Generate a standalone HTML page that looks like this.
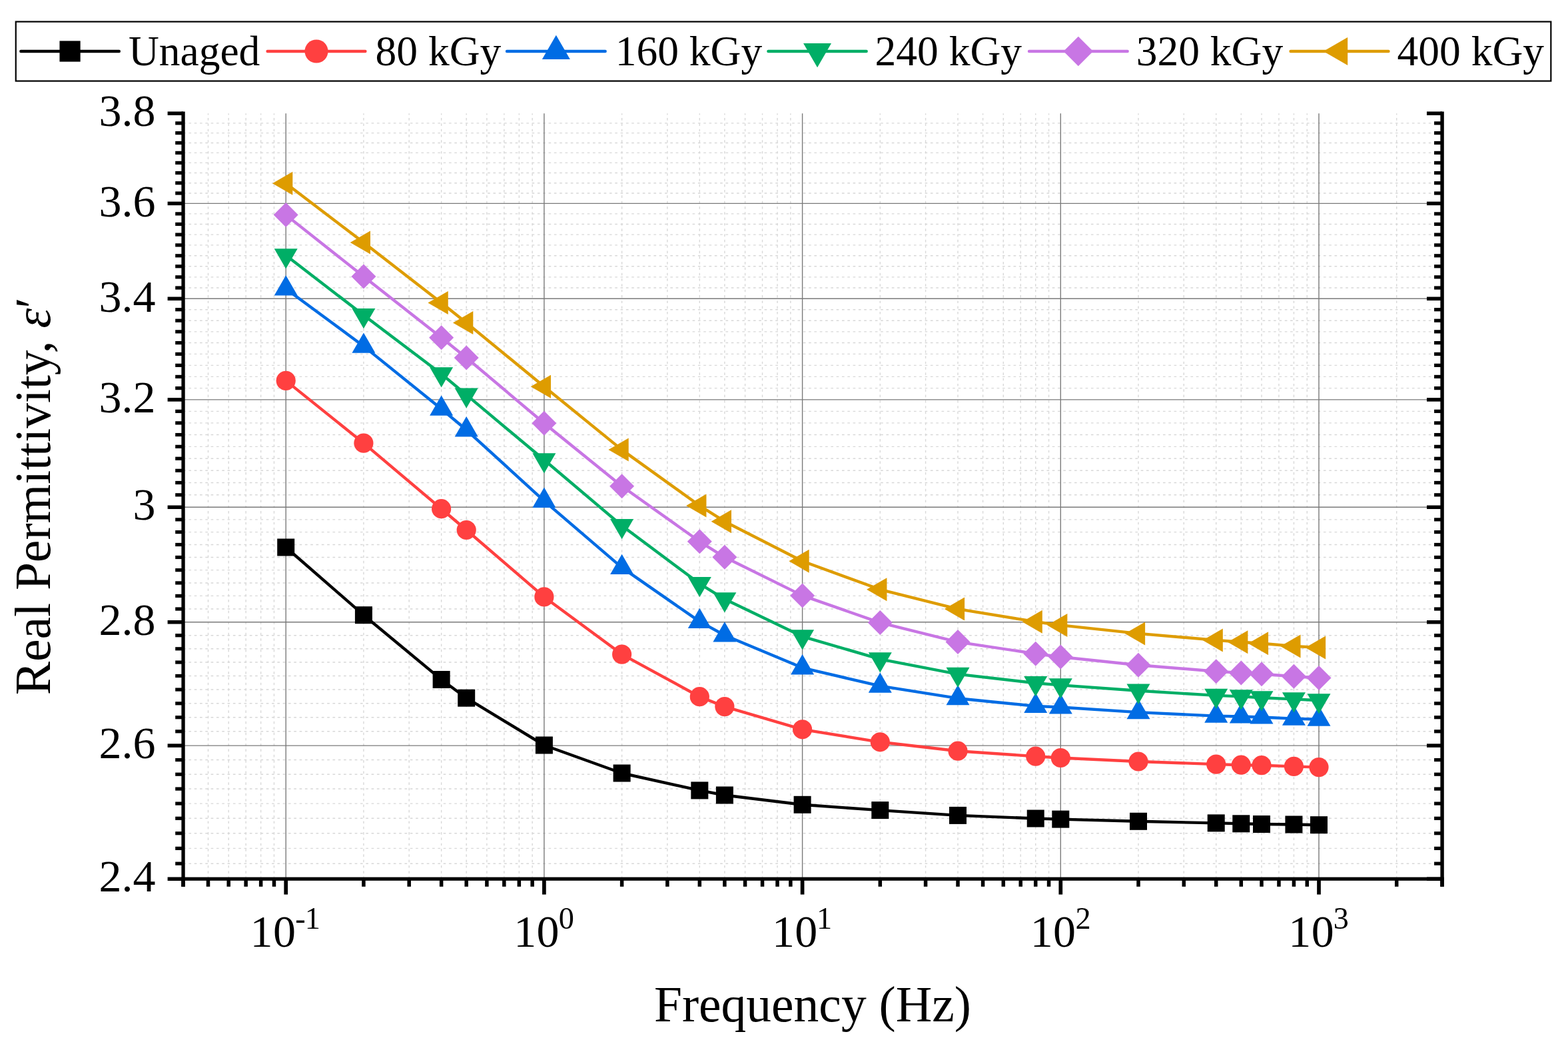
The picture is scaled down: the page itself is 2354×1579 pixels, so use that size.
<!DOCTYPE html><html><head><meta charset="utf-8"><title>Real Permittivity vs Frequency</title><style>html,body{margin:0;padding:0;background:#fff;}svg{display:block;}text{font-family:"Liberation Serif","Times New Roman",serif;fill:#000;}</style></head><body>
<svg width="2354" height="1579" viewBox="0 0 2354 1579">
<rect width="2354" height="1579" fill="#fff"/>
<path d="M312.49 1319.20V170.20 M343.19 1319.20V170.20 M369.14 1319.20V170.20 M391.63 1319.20V170.20 M411.46 1319.20V170.20 M545.91 1319.20V170.20 M614.18 1319.20V170.20 M662.62 1319.20V170.20 M700.19 1319.20V170.20 M730.89 1319.20V170.20 M756.84 1319.20V170.20 M779.33 1319.20V170.20 M799.16 1319.20V170.20 M933.61 1319.20V170.20 M1001.88 1319.20V170.20 M1050.32 1319.20V170.20 M1087.89 1319.20V170.20 M1118.59 1319.20V170.20 M1144.54 1319.20V170.20 M1167.03 1319.20V170.20 M1186.86 1319.20V170.20 M1321.31 1319.20V170.20 M1389.58 1319.20V170.20 M1438.02 1319.20V170.20 M1475.59 1319.20V170.20 M1506.29 1319.20V170.20 M1532.24 1319.20V170.20 M1554.73 1319.20V170.20 M1574.56 1319.20V170.20 M1709.01 1319.20V170.20 M1777.28 1319.20V170.20 M1825.72 1319.20V170.20 M1863.29 1319.20V170.20 M1893.99 1319.20V170.20 M1919.94 1319.20V170.20 M1942.43 1319.20V170.20 M1962.26 1319.20V170.20 M2096.71 1319.20V170.20" stroke="#d8d8d8" stroke-width="1.4" stroke-dasharray="3.7 4.61" fill="none"/>
<path d="M275.05 290.00H2165.10 M275.05 274.71H2165.10 M275.05 259.51H2165.10 M275.05 244.40H2165.10 M275.05 229.39H2165.10 M275.05 214.46H2165.10 M275.05 199.62H2165.10 M275.05 184.87H2165.10 M275.05 432.02H2165.10 M275.05 415.84H2165.10 M275.05 399.76H2165.10 M275.05 383.78H2165.10 M275.05 367.91H2165.10 M275.05 352.13H2165.10 M275.05 336.45H2165.10 M275.05 320.88H2165.10 M275.05 582.60H2165.10 M275.05 565.41H2165.10 M275.05 548.35H2165.10 M275.05 531.39H2165.10 M275.05 514.56H2165.10 M275.05 497.83H2165.10 M275.05 481.22H2165.10 M275.05 464.71H2165.10 M275.05 742.82H2165.10 M275.05 724.51H2165.10 M275.05 706.32H2165.10 M275.05 688.27H2165.10 M275.05 670.34H2165.10 M275.05 652.55H2165.10 M275.05 634.87H2165.10 M275.05 617.33H2165.10 M275.05 914.03H2165.10 M275.05 894.41H2165.10 M275.05 874.95H2165.10 M275.05 855.65H2165.10 M275.05 836.49H2165.10 M275.05 817.47H2165.10 M275.05 798.60H2165.10 M275.05 779.87H2165.10 M275.05 1097.81H2165.10 M275.05 1076.71H2165.10 M275.05 1055.79H2165.10 M275.05 1035.04H2165.10 M275.05 1014.46H2165.10 M275.05 994.05H2165.10 M275.05 973.80H2165.10 M275.05 953.72H2165.10 M275.05 1296.19H2165.10 M275.05 1273.36H2165.10 M275.05 1250.73H2165.10 M275.05 1228.30H2165.10 M275.05 1206.08H2165.10 M275.05 1184.05H2165.10 M275.05 1162.21H2165.10 M275.05 1140.56H2165.10" stroke="#d8d8d8" stroke-width="1.4" stroke-dasharray="3.7 4.61" fill="none"/>
<path d="M429.20 170.20V1319.20 M816.90 170.20V1319.20 M1204.60 170.20V1319.20 M1592.30 170.20V1319.20 M1980.00 170.20V1319.20 M275.05 305.39H2165.10 M275.05 448.31H2165.10 M275.05 599.90H2165.10 M275.05 761.28H2165.10 M275.05 933.79H2165.10 M275.05 1119.10H2165.10" stroke="#7a7a7a" stroke-width="1.4" fill="none"/>
<path d="M429.20 821.50 L545.91 923.20 L662.62 1020.00 L700.19 1047.70 L816.90 1118.50 L933.61 1160.50 L1050.32 1186.40 L1087.89 1193.50 L1204.60 1207.80 L1321.31 1216.10 L1438.02 1223.90 L1554.73 1228.50 L1592.30 1229.60 L1709.01 1232.80 L1825.72 1235.40 L1863.29 1236.30 L1893.99 1237.00 L1942.43 1237.50 L1980.00 1238.20" stroke="#000000" stroke-width="4.4" fill="none" stroke-linejoin="round"/>
<rect x="416.20" y="808.50" width="26.00" height="26.00" fill="#000000"/>
<rect x="532.91" y="910.20" width="26.00" height="26.00" fill="#000000"/>
<rect x="649.62" y="1007.00" width="26.00" height="26.00" fill="#000000"/>
<rect x="687.19" y="1034.70" width="26.00" height="26.00" fill="#000000"/>
<rect x="803.90" y="1105.50" width="26.00" height="26.00" fill="#000000"/>
<rect x="920.61" y="1147.50" width="26.00" height="26.00" fill="#000000"/>
<rect x="1037.32" y="1173.40" width="26.00" height="26.00" fill="#000000"/>
<rect x="1074.89" y="1180.50" width="26.00" height="26.00" fill="#000000"/>
<rect x="1191.60" y="1194.80" width="26.00" height="26.00" fill="#000000"/>
<rect x="1308.31" y="1203.10" width="26.00" height="26.00" fill="#000000"/>
<rect x="1425.02" y="1210.90" width="26.00" height="26.00" fill="#000000"/>
<rect x="1541.73" y="1215.50" width="26.00" height="26.00" fill="#000000"/>
<rect x="1579.30" y="1216.60" width="26.00" height="26.00" fill="#000000"/>
<rect x="1696.01" y="1219.80" width="26.00" height="26.00" fill="#000000"/>
<rect x="1812.72" y="1222.40" width="26.00" height="26.00" fill="#000000"/>
<rect x="1850.29" y="1223.30" width="26.00" height="26.00" fill="#000000"/>
<rect x="1880.99" y="1224.00" width="26.00" height="26.00" fill="#000000"/>
<rect x="1929.43" y="1224.50" width="26.00" height="26.00" fill="#000000"/>
<rect x="1967.00" y="1225.20" width="26.00" height="26.00" fill="#000000"/>
<path d="M429.20 571.40 L545.91 665.10 L662.62 763.70 L700.19 795.50 L816.90 895.90 L933.61 982.10 L1050.32 1045.70 L1087.89 1060.60 L1204.60 1094.80 L1321.31 1113.80 L1438.02 1127.20 L1554.73 1135.20 L1592.30 1137.50 L1709.01 1143.00 L1825.72 1147.10 L1863.29 1148.20 L1893.99 1148.70 L1942.43 1150.40 L1980.00 1151.60" stroke="#FF4040" stroke-width="4.4" fill="none" stroke-linejoin="round"/>
<circle cx="429.20" cy="571.40" r="14.60" fill="#FF4040"/>
<circle cx="545.91" cy="665.10" r="14.60" fill="#FF4040"/>
<circle cx="662.62" cy="763.70" r="14.60" fill="#FF4040"/>
<circle cx="700.19" cy="795.50" r="14.60" fill="#FF4040"/>
<circle cx="816.90" cy="895.90" r="14.60" fill="#FF4040"/>
<circle cx="933.61" cy="982.10" r="14.60" fill="#FF4040"/>
<circle cx="1050.32" cy="1045.70" r="14.60" fill="#FF4040"/>
<circle cx="1087.89" cy="1060.60" r="14.60" fill="#FF4040"/>
<circle cx="1204.60" cy="1094.80" r="14.60" fill="#FF4040"/>
<circle cx="1321.31" cy="1113.80" r="14.60" fill="#FF4040"/>
<circle cx="1438.02" cy="1127.20" r="14.60" fill="#FF4040"/>
<circle cx="1554.73" cy="1135.20" r="14.60" fill="#FF4040"/>
<circle cx="1592.30" cy="1137.50" r="14.60" fill="#FF4040"/>
<circle cx="1709.01" cy="1143.00" r="14.60" fill="#FF4040"/>
<circle cx="1825.72" cy="1147.10" r="14.60" fill="#FF4040"/>
<circle cx="1863.29" cy="1148.20" r="14.60" fill="#FF4040"/>
<circle cx="1893.99" cy="1148.70" r="14.60" fill="#FF4040"/>
<circle cx="1942.43" cy="1150.40" r="14.60" fill="#FF4040"/>
<circle cx="1980.00" cy="1151.60" r="14.60" fill="#FF4040"/>
<path d="M429.20 433.40 L545.91 519.60 L662.62 613.70 L700.19 645.30 L816.90 751.80 L933.61 851.90 L1050.32 932.90 L1087.89 953.50 L1204.60 1002.30 L1321.31 1029.70 L1438.02 1048.20 L1554.73 1059.90 L1592.30 1061.50 L1709.01 1069.10 L1825.72 1074.60 L1863.29 1075.50 L1893.99 1076.50 L1942.43 1078.60 L1980.00 1079.70" stroke="#006CE4" stroke-width="4.4" fill="none" stroke-linejoin="round"/>
<polygon points="429.20,413.19 411.70,443.50 446.70,443.50" fill="#006CE4"/>
<polygon points="545.91,499.39 528.41,529.70 563.41,529.70" fill="#006CE4"/>
<polygon points="662.62,593.49 645.12,623.80 680.12,623.80" fill="#006CE4"/>
<polygon points="700.19,625.09 682.69,655.40 717.69,655.40" fill="#006CE4"/>
<polygon points="816.90,731.59 799.40,761.90 834.40,761.90" fill="#006CE4"/>
<polygon points="933.61,831.69 916.11,862.00 951.11,862.00" fill="#006CE4"/>
<polygon points="1050.32,912.69 1032.82,943.00 1067.82,943.00" fill="#006CE4"/>
<polygon points="1087.89,933.29 1070.39,963.60 1105.39,963.60" fill="#006CE4"/>
<polygon points="1204.60,982.09 1187.10,1012.40 1222.10,1012.40" fill="#006CE4"/>
<polygon points="1321.31,1009.49 1303.81,1039.80 1338.81,1039.80" fill="#006CE4"/>
<polygon points="1438.02,1027.99 1420.52,1058.30 1455.52,1058.30" fill="#006CE4"/>
<polygon points="1554.73,1039.69 1537.23,1070.00 1572.23,1070.00" fill="#006CE4"/>
<polygon points="1592.30,1041.29 1574.80,1071.60 1609.80,1071.60" fill="#006CE4"/>
<polygon points="1709.01,1048.89 1691.51,1079.20 1726.51,1079.20" fill="#006CE4"/>
<polygon points="1825.72,1054.39 1808.22,1084.70 1843.22,1084.70" fill="#006CE4"/>
<polygon points="1863.29,1055.29 1845.79,1085.60 1880.79,1085.60" fill="#006CE4"/>
<polygon points="1893.99,1056.29 1876.49,1086.60 1911.49,1086.60" fill="#006CE4"/>
<polygon points="1942.43,1058.39 1924.93,1088.70 1959.93,1088.70" fill="#006CE4"/>
<polygon points="1980.00,1059.49 1962.50,1089.80 1997.50,1089.80" fill="#006CE4"/>
<path d="M429.20 383.30 L545.91 473.00 L662.62 561.30 L700.19 592.60 L816.90 690.30 L933.61 789.00 L1050.32 876.10 L1087.89 899.30 L1204.60 955.30 L1321.31 989.30 L1438.02 1011.90 L1554.73 1025.20 L1592.30 1028.40 L1709.01 1036.70 L1825.72 1043.90 L1863.29 1045.40 L1893.99 1047.30 L1942.43 1049.40 L1980.00 1051.30" stroke="#00AE66" stroke-width="4.4" fill="none" stroke-linejoin="round"/>
<polygon points="429.20,403.51 411.70,373.20 446.70,373.20" fill="#00AE66"/>
<polygon points="545.91,493.21 528.41,462.90 563.41,462.90" fill="#00AE66"/>
<polygon points="662.62,581.51 645.12,551.20 680.12,551.20" fill="#00AE66"/>
<polygon points="700.19,612.81 682.69,582.50 717.69,582.50" fill="#00AE66"/>
<polygon points="816.90,710.51 799.40,680.20 834.40,680.20" fill="#00AE66"/>
<polygon points="933.61,809.21 916.11,778.90 951.11,778.90" fill="#00AE66"/>
<polygon points="1050.32,896.31 1032.82,866.00 1067.82,866.00" fill="#00AE66"/>
<polygon points="1087.89,919.51 1070.39,889.20 1105.39,889.20" fill="#00AE66"/>
<polygon points="1204.60,975.51 1187.10,945.20 1222.10,945.20" fill="#00AE66"/>
<polygon points="1321.31,1009.51 1303.81,979.20 1338.81,979.20" fill="#00AE66"/>
<polygon points="1438.02,1032.11 1420.52,1001.80 1455.52,1001.80" fill="#00AE66"/>
<polygon points="1554.73,1045.41 1537.23,1015.10 1572.23,1015.10" fill="#00AE66"/>
<polygon points="1592.30,1048.61 1574.80,1018.30 1609.80,1018.30" fill="#00AE66"/>
<polygon points="1709.01,1056.91 1691.51,1026.60 1726.51,1026.60" fill="#00AE66"/>
<polygon points="1825.72,1064.11 1808.22,1033.80 1843.22,1033.80" fill="#00AE66"/>
<polygon points="1863.29,1065.61 1845.79,1035.30 1880.79,1035.30" fill="#00AE66"/>
<polygon points="1893.99,1067.51 1876.49,1037.20 1911.49,1037.20" fill="#00AE66"/>
<polygon points="1942.43,1069.61 1924.93,1039.30 1959.93,1039.30" fill="#00AE66"/>
<polygon points="1980.00,1071.51 1962.50,1041.20 1997.50,1041.20" fill="#00AE66"/>
<path d="M429.20 322.60 L545.91 415.00 L662.62 506.80 L700.19 537.00 L816.90 635.30 L933.61 729.80 L1050.32 812.80 L1087.89 836.30 L1204.60 893.90 L1321.31 934.60 L1438.02 963.60 L1554.73 981.20 L1592.30 986.00 L1709.01 998.20 L1825.72 1007.70 L1863.29 1009.90 L1893.99 1011.70 L1942.43 1015.30 L1980.00 1017.50" stroke="#C876E4" stroke-width="4.4" fill="none" stroke-linejoin="round"/>
<polygon points="429.20,304.10 447.70,322.60 429.20,341.10 410.70,322.60" fill="#C876E4"/>
<polygon points="545.91,396.50 564.41,415.00 545.91,433.50 527.41,415.00" fill="#C876E4"/>
<polygon points="662.62,488.30 681.12,506.80 662.62,525.30 644.12,506.80" fill="#C876E4"/>
<polygon points="700.19,518.50 718.69,537.00 700.19,555.50 681.69,537.00" fill="#C876E4"/>
<polygon points="816.90,616.80 835.40,635.30 816.90,653.80 798.40,635.30" fill="#C876E4"/>
<polygon points="933.61,711.30 952.11,729.80 933.61,748.30 915.11,729.80" fill="#C876E4"/>
<polygon points="1050.32,794.30 1068.82,812.80 1050.32,831.30 1031.82,812.80" fill="#C876E4"/>
<polygon points="1087.89,817.80 1106.39,836.30 1087.89,854.80 1069.39,836.30" fill="#C876E4"/>
<polygon points="1204.60,875.40 1223.10,893.90 1204.60,912.40 1186.10,893.90" fill="#C876E4"/>
<polygon points="1321.31,916.10 1339.81,934.60 1321.31,953.10 1302.81,934.60" fill="#C876E4"/>
<polygon points="1438.02,945.10 1456.52,963.60 1438.02,982.10 1419.52,963.60" fill="#C876E4"/>
<polygon points="1554.73,962.70 1573.23,981.20 1554.73,999.70 1536.23,981.20" fill="#C876E4"/>
<polygon points="1592.30,967.50 1610.80,986.00 1592.30,1004.50 1573.80,986.00" fill="#C876E4"/>
<polygon points="1709.01,979.70 1727.51,998.20 1709.01,1016.70 1690.51,998.20" fill="#C876E4"/>
<polygon points="1825.72,989.20 1844.22,1007.70 1825.72,1026.20 1807.22,1007.70" fill="#C876E4"/>
<polygon points="1863.29,991.40 1881.79,1009.90 1863.29,1028.40 1844.79,1009.90" fill="#C876E4"/>
<polygon points="1893.99,993.20 1912.49,1011.70 1893.99,1030.20 1875.49,1011.70" fill="#C876E4"/>
<polygon points="1942.43,996.80 1960.93,1015.30 1942.43,1033.80 1923.93,1015.30" fill="#C876E4"/>
<polygon points="1980.00,999.00 1998.50,1017.50 1980.00,1036.00 1961.50,1017.50" fill="#C876E4"/>
<path d="M429.20 275.20 L545.91 364.10 L662.62 454.50 L700.19 484.50 L816.90 580.20 L933.61 675.10 L1050.32 759.00 L1087.89 782.70 L1204.60 842.30 L1321.31 884.80 L1438.02 914.10 L1554.73 933.20 L1592.30 938.40 L1709.01 950.90 L1825.72 960.90 L1863.29 963.80 L1893.99 965.80 L1942.43 969.90 L1980.00 972.00" stroke="#DE9C00" stroke-width="4.4" fill="none" stroke-linejoin="round"/>
<polygon points="408.99,275.20 439.30,257.70 439.30,292.70" fill="#DE9C00"/>
<polygon points="525.70,364.10 556.01,346.60 556.01,381.60" fill="#DE9C00"/>
<polygon points="642.41,454.50 672.72,437.00 672.72,472.00" fill="#DE9C00"/>
<polygon points="679.98,484.50 710.29,467.00 710.29,502.00" fill="#DE9C00"/>
<polygon points="796.69,580.20 827.00,562.70 827.00,597.70" fill="#DE9C00"/>
<polygon points="913.40,675.10 943.71,657.60 943.71,692.60" fill="#DE9C00"/>
<polygon points="1030.11,759.00 1060.42,741.50 1060.42,776.50" fill="#DE9C00"/>
<polygon points="1067.68,782.70 1097.99,765.20 1097.99,800.20" fill="#DE9C00"/>
<polygon points="1184.39,842.30 1214.70,824.80 1214.70,859.80" fill="#DE9C00"/>
<polygon points="1301.10,884.80 1331.41,867.30 1331.41,902.30" fill="#DE9C00"/>
<polygon points="1417.81,914.10 1448.12,896.60 1448.12,931.60" fill="#DE9C00"/>
<polygon points="1534.52,933.20 1564.83,915.70 1564.83,950.70" fill="#DE9C00"/>
<polygon points="1572.09,938.40 1602.40,920.90 1602.40,955.90" fill="#DE9C00"/>
<polygon points="1688.80,950.90 1719.11,933.40 1719.11,968.40" fill="#DE9C00"/>
<polygon points="1805.51,960.90 1835.82,943.40 1835.82,978.40" fill="#DE9C00"/>
<polygon points="1843.08,963.80 1873.39,946.30 1873.39,981.30" fill="#DE9C00"/>
<polygon points="1873.78,965.80 1904.09,948.30 1904.09,983.30" fill="#DE9C00"/>
<polygon points="1922.22,969.90 1952.53,952.40 1952.53,987.40" fill="#DE9C00"/>
<polygon points="1959.79,972.00 1990.10,954.50 1990.10,989.50" fill="#DE9C00"/>
<g fill="#000"><rect x="272.40" y="167.5" width="5.3" height="1163.50"/><rect x="2162.40" y="167.5" width="5.4" height="1163.30"/><rect x="272.40" y="1316.60" width="1895.40" height="5.2"/><rect x="251.6" y="167.45" width="23.45" height="5.5"/><rect x="2142" y="167.45" width="23.10" height="5.5"/><rect x="251.6" y="302.64" width="23.45" height="5.5"/><rect x="2142" y="302.64" width="23.10" height="5.5"/><rect x="251.6" y="445.56" width="23.45" height="5.5"/><rect x="2142" y="445.56" width="23.10" height="5.5"/><rect x="251.6" y="597.15" width="23.45" height="5.5"/><rect x="2142" y="597.15" width="23.10" height="5.5"/><rect x="251.6" y="758.53" width="23.45" height="5.5"/><rect x="2142" y="758.53" width="23.10" height="5.5"/><rect x="251.6" y="931.04" width="23.45" height="5.5"/><rect x="2142" y="931.04" width="23.10" height="5.5"/><rect x="251.6" y="1116.35" width="23.45" height="5.5"/><rect x="2142" y="1116.35" width="23.10" height="5.5"/><rect x="251.6" y="1316.49" width="23.45" height="5.5"/><rect x="2142" y="1316.49" width="23.10" height="5.5"/><rect x="263.2" y="287.40" width="11.85" height="5.2"/><rect x="2153.1" y="287.40" width="12.00" height="5.2"/><rect x="263.2" y="272.11" width="11.85" height="5.2"/><rect x="2153.1" y="272.11" width="12.00" height="5.2"/><rect x="263.2" y="256.91" width="11.85" height="5.2"/><rect x="2153.1" y="256.91" width="12.00" height="5.2"/><rect x="263.2" y="241.80" width="11.85" height="5.2"/><rect x="2153.1" y="241.80" width="12.00" height="5.2"/><rect x="263.2" y="226.79" width="11.85" height="5.2"/><rect x="2153.1" y="226.79" width="12.00" height="5.2"/><rect x="263.2" y="211.86" width="11.85" height="5.2"/><rect x="2153.1" y="211.86" width="12.00" height="5.2"/><rect x="263.2" y="197.02" width="11.85" height="5.2"/><rect x="2153.1" y="197.02" width="12.00" height="5.2"/><rect x="263.2" y="182.27" width="11.85" height="5.2"/><rect x="2153.1" y="182.27" width="12.00" height="5.2"/><rect x="263.2" y="429.42" width="11.85" height="5.2"/><rect x="2153.1" y="429.42" width="12.00" height="5.2"/><rect x="263.2" y="413.24" width="11.85" height="5.2"/><rect x="2153.1" y="413.24" width="12.00" height="5.2"/><rect x="263.2" y="397.16" width="11.85" height="5.2"/><rect x="2153.1" y="397.16" width="12.00" height="5.2"/><rect x="263.2" y="381.18" width="11.85" height="5.2"/><rect x="2153.1" y="381.18" width="12.00" height="5.2"/><rect x="263.2" y="365.31" width="11.85" height="5.2"/><rect x="2153.1" y="365.31" width="12.00" height="5.2"/><rect x="263.2" y="349.53" width="11.85" height="5.2"/><rect x="2153.1" y="349.53" width="12.00" height="5.2"/><rect x="263.2" y="333.85" width="11.85" height="5.2"/><rect x="2153.1" y="333.85" width="12.00" height="5.2"/><rect x="263.2" y="318.28" width="11.85" height="5.2"/><rect x="2153.1" y="318.28" width="12.00" height="5.2"/><rect x="263.2" y="580.00" width="11.85" height="5.2"/><rect x="2153.1" y="580.00" width="12.00" height="5.2"/><rect x="263.2" y="562.81" width="11.85" height="5.2"/><rect x="2153.1" y="562.81" width="12.00" height="5.2"/><rect x="263.2" y="545.75" width="11.85" height="5.2"/><rect x="2153.1" y="545.75" width="12.00" height="5.2"/><rect x="263.2" y="528.79" width="11.85" height="5.2"/><rect x="2153.1" y="528.79" width="12.00" height="5.2"/><rect x="263.2" y="511.96" width="11.85" height="5.2"/><rect x="2153.1" y="511.96" width="12.00" height="5.2"/><rect x="263.2" y="495.23" width="11.85" height="5.2"/><rect x="2153.1" y="495.23" width="12.00" height="5.2"/><rect x="263.2" y="478.62" width="11.85" height="5.2"/><rect x="2153.1" y="478.62" width="12.00" height="5.2"/><rect x="263.2" y="462.11" width="11.85" height="5.2"/><rect x="2153.1" y="462.11" width="12.00" height="5.2"/><rect x="263.2" y="740.22" width="11.85" height="5.2"/><rect x="2153.1" y="740.22" width="12.00" height="5.2"/><rect x="263.2" y="721.91" width="11.85" height="5.2"/><rect x="2153.1" y="721.91" width="12.00" height="5.2"/><rect x="263.2" y="703.72" width="11.85" height="5.2"/><rect x="2153.1" y="703.72" width="12.00" height="5.2"/><rect x="263.2" y="685.67" width="11.85" height="5.2"/><rect x="2153.1" y="685.67" width="12.00" height="5.2"/><rect x="263.2" y="667.74" width="11.85" height="5.2"/><rect x="2153.1" y="667.74" width="12.00" height="5.2"/><rect x="263.2" y="649.95" width="11.85" height="5.2"/><rect x="2153.1" y="649.95" width="12.00" height="5.2"/><rect x="263.2" y="632.27" width="11.85" height="5.2"/><rect x="2153.1" y="632.27" width="12.00" height="5.2"/><rect x="263.2" y="614.73" width="11.85" height="5.2"/><rect x="2153.1" y="614.73" width="12.00" height="5.2"/><rect x="263.2" y="911.43" width="11.85" height="5.2"/><rect x="2153.1" y="911.43" width="12.00" height="5.2"/><rect x="263.2" y="891.81" width="11.85" height="5.2"/><rect x="2153.1" y="891.81" width="12.00" height="5.2"/><rect x="263.2" y="872.35" width="11.85" height="5.2"/><rect x="2153.1" y="872.35" width="12.00" height="5.2"/><rect x="263.2" y="853.05" width="11.85" height="5.2"/><rect x="2153.1" y="853.05" width="12.00" height="5.2"/><rect x="263.2" y="833.89" width="11.85" height="5.2"/><rect x="2153.1" y="833.89" width="12.00" height="5.2"/><rect x="263.2" y="814.87" width="11.85" height="5.2"/><rect x="2153.1" y="814.87" width="12.00" height="5.2"/><rect x="263.2" y="796.00" width="11.85" height="5.2"/><rect x="2153.1" y="796.00" width="12.00" height="5.2"/><rect x="263.2" y="777.27" width="11.85" height="5.2"/><rect x="2153.1" y="777.27" width="12.00" height="5.2"/><rect x="263.2" y="1095.21" width="11.85" height="5.2"/><rect x="2153.1" y="1095.21" width="12.00" height="5.2"/><rect x="263.2" y="1074.11" width="11.85" height="5.2"/><rect x="2153.1" y="1074.11" width="12.00" height="5.2"/><rect x="263.2" y="1053.19" width="11.85" height="5.2"/><rect x="2153.1" y="1053.19" width="12.00" height="5.2"/><rect x="263.2" y="1032.44" width="11.85" height="5.2"/><rect x="2153.1" y="1032.44" width="12.00" height="5.2"/><rect x="263.2" y="1011.86" width="11.85" height="5.2"/><rect x="2153.1" y="1011.86" width="12.00" height="5.2"/><rect x="263.2" y="991.45" width="11.85" height="5.2"/><rect x="2153.1" y="991.45" width="12.00" height="5.2"/><rect x="263.2" y="971.20" width="11.85" height="5.2"/><rect x="2153.1" y="971.20" width="12.00" height="5.2"/><rect x="263.2" y="951.12" width="11.85" height="5.2"/><rect x="2153.1" y="951.12" width="12.00" height="5.2"/><rect x="263.2" y="1293.59" width="11.85" height="5.2"/><rect x="2153.1" y="1293.59" width="12.00" height="5.2"/><rect x="263.2" y="1270.76" width="11.85" height="5.2"/><rect x="2153.1" y="1270.76" width="12.00" height="5.2"/><rect x="263.2" y="1248.13" width="11.85" height="5.2"/><rect x="2153.1" y="1248.13" width="12.00" height="5.2"/><rect x="263.2" y="1225.70" width="11.85" height="5.2"/><rect x="2153.1" y="1225.70" width="12.00" height="5.2"/><rect x="263.2" y="1203.48" width="11.85" height="5.2"/><rect x="2153.1" y="1203.48" width="12.00" height="5.2"/><rect x="263.2" y="1181.45" width="11.85" height="5.2"/><rect x="2153.1" y="1181.45" width="12.00" height="5.2"/><rect x="263.2" y="1159.61" width="11.85" height="5.2"/><rect x="2153.1" y="1159.61" width="12.00" height="5.2"/><rect x="263.2" y="1137.96" width="11.85" height="5.2"/><rect x="2153.1" y="1137.96" width="12.00" height="5.2"/><rect x="272.17" y="1319.20" width="5.5" height="11.60"/><rect x="309.74" y="1319.20" width="5.5" height="11.60"/><rect x="340.44" y="1319.20" width="5.5" height="11.60"/><rect x="366.39" y="1319.20" width="5.5" height="11.60"/><rect x="388.88" y="1319.20" width="5.5" height="11.60"/><rect x="408.71" y="1319.20" width="5.5" height="11.60"/><rect x="426.35" y="1319.20" width="5.7" height="23.40"/><rect x="543.16" y="1319.20" width="5.5" height="11.60"/><rect x="611.43" y="1319.20" width="5.5" height="11.60"/><rect x="659.87" y="1319.20" width="5.5" height="11.60"/><rect x="697.44" y="1319.20" width="5.5" height="11.60"/><rect x="728.14" y="1319.20" width="5.5" height="11.60"/><rect x="754.09" y="1319.20" width="5.5" height="11.60"/><rect x="776.58" y="1319.20" width="5.5" height="11.60"/><rect x="796.41" y="1319.20" width="5.5" height="11.60"/><rect x="814.05" y="1319.20" width="5.7" height="23.40"/><rect x="930.86" y="1319.20" width="5.5" height="11.60"/><rect x="999.13" y="1319.20" width="5.5" height="11.60"/><rect x="1047.57" y="1319.20" width="5.5" height="11.60"/><rect x="1085.14" y="1319.20" width="5.5" height="11.60"/><rect x="1115.84" y="1319.20" width="5.5" height="11.60"/><rect x="1141.79" y="1319.20" width="5.5" height="11.60"/><rect x="1164.28" y="1319.20" width="5.5" height="11.60"/><rect x="1184.11" y="1319.20" width="5.5" height="11.60"/><rect x="1201.75" y="1319.20" width="5.7" height="23.40"/><rect x="1318.56" y="1319.20" width="5.5" height="11.60"/><rect x="1386.83" y="1319.20" width="5.5" height="11.60"/><rect x="1435.27" y="1319.20" width="5.5" height="11.60"/><rect x="1472.84" y="1319.20" width="5.5" height="11.60"/><rect x="1503.54" y="1319.20" width="5.5" height="11.60"/><rect x="1529.49" y="1319.20" width="5.5" height="11.60"/><rect x="1551.98" y="1319.20" width="5.5" height="11.60"/><rect x="1571.81" y="1319.20" width="5.5" height="11.60"/><rect x="1589.45" y="1319.20" width="5.7" height="23.40"/><rect x="1706.26" y="1319.20" width="5.5" height="11.60"/><rect x="1774.53" y="1319.20" width="5.5" height="11.60"/><rect x="1822.97" y="1319.20" width="5.5" height="11.60"/><rect x="1860.54" y="1319.20" width="5.5" height="11.60"/><rect x="1891.24" y="1319.20" width="5.5" height="11.60"/><rect x="1917.19" y="1319.20" width="5.5" height="11.60"/><rect x="1939.68" y="1319.20" width="5.5" height="11.60"/><rect x="1959.51" y="1319.20" width="5.5" height="11.60"/><rect x="1977.15" y="1319.20" width="5.7" height="23.40"/><rect x="2093.96" y="1319.20" width="5.5" height="11.60"/><rect x="2162.23" y="1319.20" width="5.5" height="11.60"/></g>
<text x="233.6" y="189.40" font-size="68" text-anchor="end">3.8</text>
<text x="233.6" y="324.59" font-size="68" text-anchor="end">3.6</text>
<text x="233.6" y="467.51" font-size="68" text-anchor="end">3.4</text>
<text x="233.6" y="619.10" font-size="68" text-anchor="end">3.2</text>
<text x="233.6" y="780.48" font-size="68" text-anchor="end">3</text>
<text x="233.6" y="952.99" font-size="68" text-anchor="end">2.8</text>
<text x="233.6" y="1138.30" font-size="68" text-anchor="end">2.6</text>
<text x="233.6" y="1338.44" font-size="68" text-anchor="end">2.4</text>
<text><tspan x="375.50" y="1420.6" font-size="68">1</tspan><tspan x="409.90" y="1420.6" font-size="68">0</tspan><tspan x="443.37" y="1393.9" font-size="46.3">-</tspan><tspan x="457.73" y="1393.9" font-size="46.3">1</tspan></text>
<text><tspan x="771.25" y="1420.6" font-size="68">1</tspan><tspan x="805.55" y="1420.6" font-size="68">0</tspan><tspan x="838.82" y="1393.9" font-size="46.3">0</tspan></text>
<text><tspan x="1158.95" y="1420.6" font-size="68">1</tspan><tspan x="1193.25" y="1420.6" font-size="68">0</tspan><tspan x="1225.88" y="1393.9" font-size="46.3">1</tspan></text>
<text><tspan x="1546.65" y="1420.6" font-size="68">1</tspan><tspan x="1580.95" y="1420.6" font-size="68">0</tspan><tspan x="1614.48" y="1393.9" font-size="46.3">2</tspan></text>
<text><tspan x="1934.35" y="1420.6" font-size="68">1</tspan><tspan x="1968.65" y="1420.6" font-size="68">0</tspan><tspan x="2001.72" y="1393.9" font-size="46.3">3</tspan></text>
<text x="1219.9" y="1532.5" font-size="75.5" text-anchor="middle">Frequency (Hz)</text>
<text transform="translate(74.6 744.8) rotate(-90)" x="0" y="0" font-size="75.5" text-anchor="middle">Real Permittivity, <tspan font-style="italic">ε</tspan>′</text>
<rect x="23.75" y="32.55" width="2304.6" height="89.05" fill="none" stroke="#000" stroke-width="2.2"/>
<line x1="31.3" y1="77" x2="178.8" y2="77" stroke="#000000" stroke-width="4.4" stroke-linecap="round"/>
<rect x="89.45" y="61.40" width="31.20" height="31.20" fill="#000000"/>
<text x="192.9" y="97.8" font-size="63.5">Unaged</text>
<line x1="401.6" y1="77" x2="548.4" y2="77" stroke="#FF4040" stroke-width="4.4" stroke-linecap="round"/>
<circle cx="475.00" cy="77.00" r="17.52" fill="#FF4040"/>
<text x="563.5" y="97.8" font-size="63.5">80 kGy</text>
<line x1="761" y1="77" x2="908.7" y2="77" stroke="#006CE4" stroke-width="4.4" stroke-linecap="round"/>
<polygon points="834.85,52.75 813.85,89.12 855.85,89.12" fill="#006CE4"/>
<text x="923.7" y="97.8" font-size="63.5">160 kGy</text>
<line x1="1153.4" y1="77" x2="1300.7" y2="77" stroke="#00AE66" stroke-width="4.4" stroke-linecap="round"/>
<polygon points="1227.05,101.25 1206.05,64.88 1248.05,64.88" fill="#00AE66"/>
<text x="1313.5" y="97.8" font-size="63.5">240 kGy</text>
<line x1="1545" y1="77" x2="1692.7" y2="77" stroke="#C876E4" stroke-width="4.4" stroke-linecap="round"/>
<polygon points="1618.85,54.80 1641.05,77.00 1618.85,99.20 1596.65,77.00" fill="#C876E4"/>
<text x="1705.7" y="97.8" font-size="63.5">320 kGy</text>
<line x1="1937.6" y1="77" x2="2084.5" y2="77" stroke="#DE9C00" stroke-width="4.4" stroke-linecap="round"/>
<polygon points="1986.80,77.00 2023.17,56.00 2023.17,98.00" fill="#DE9C00"/>
<text x="2097.6" y="97.8" font-size="63.5">400 kGy</text>
</svg></body></html>
